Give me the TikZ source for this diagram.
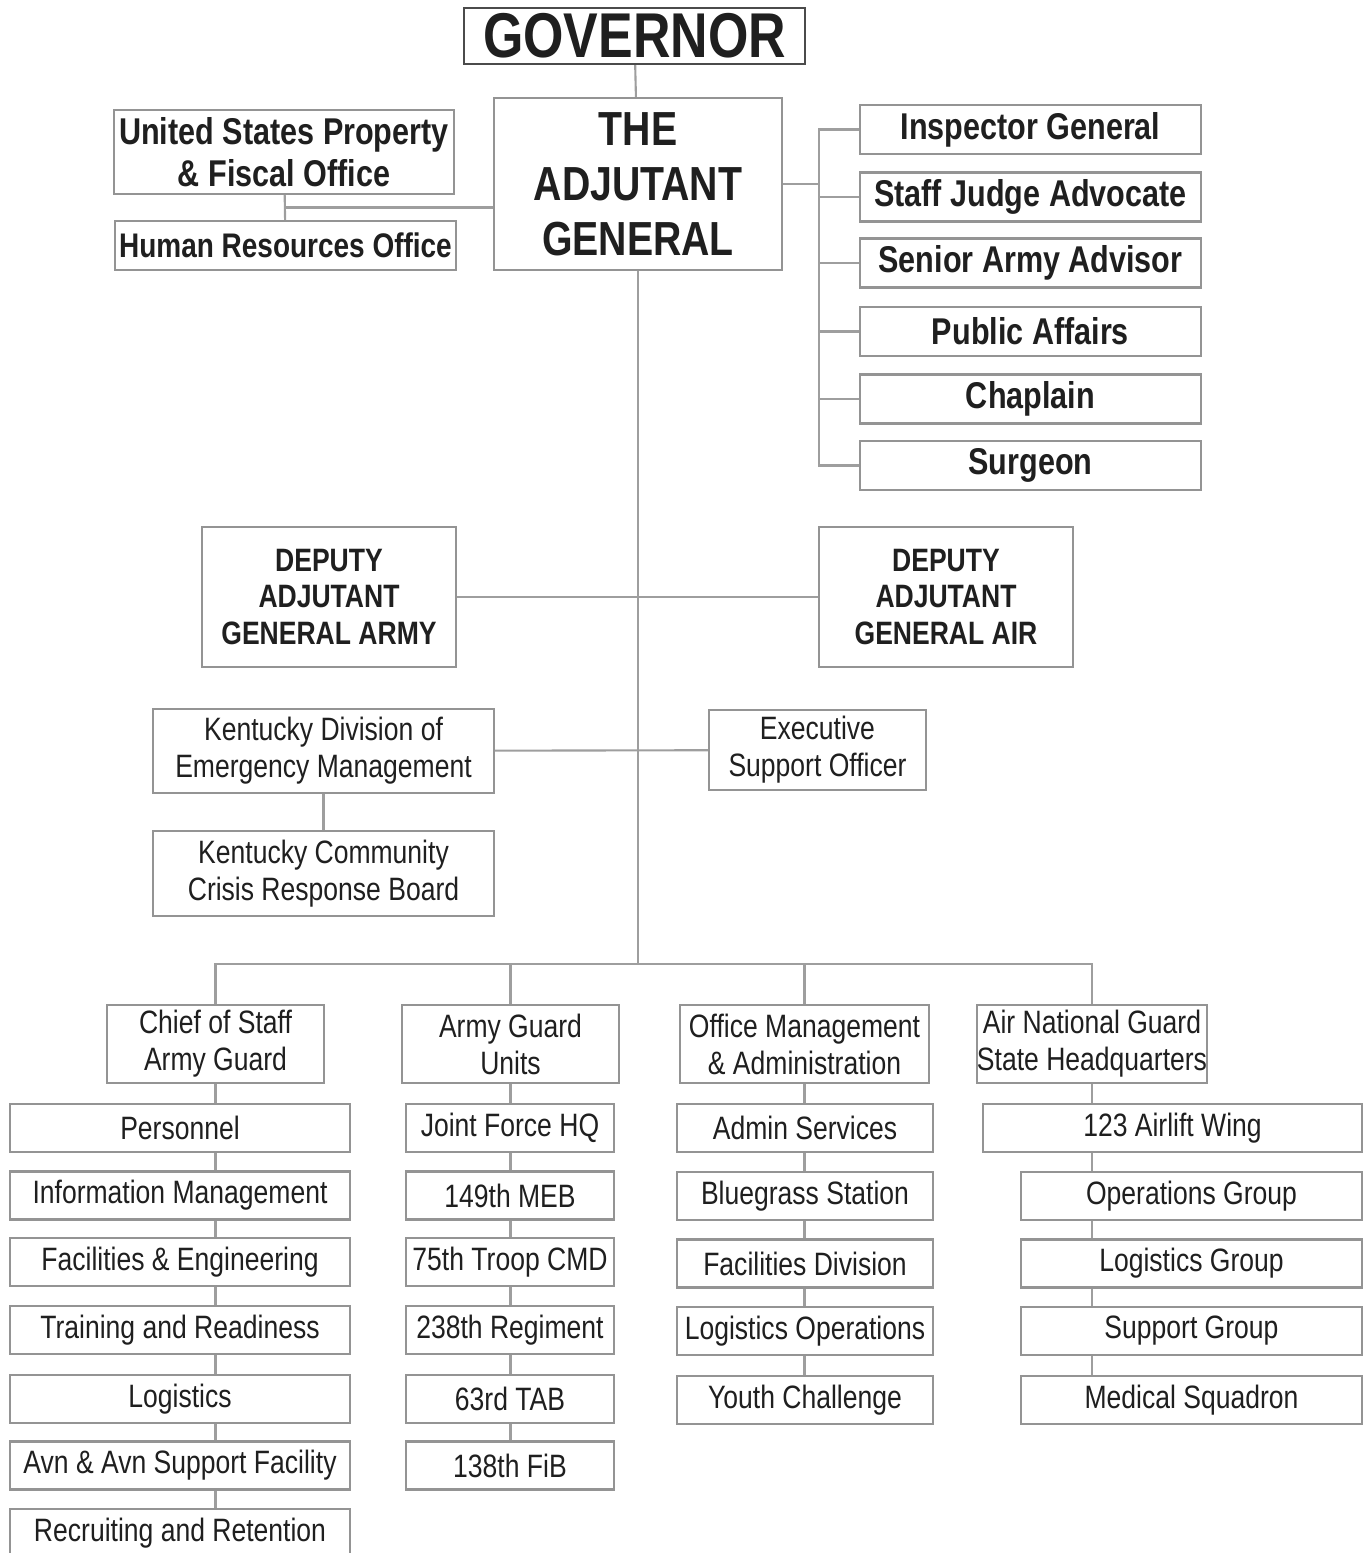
\documentclass[tikz,border=0pt]{standalone}
\usepackage{fontspec}
\setmainfont{Liberation Sans}[FakeStretch=0.82]
\usetikzlibrary{backgrounds,calc}

\begin{document}
\begin{tikzpicture}[x=0.01cm,y=-0.01cm,
  box/.style={draw=boxgray,line width=0.65pt,fill=white,inner sep=0pt,
    align=center,text=ink,font=\fontsize{9.2}{10.5}\selectfont},
  bbox/.style={box,font=\bfseries\fontsize{10.6}{12}\selectfont},
  link/.style={draw=linkgray,line width=0.6pt},
  staff/.style={bbox,minimum width=3.41cm,minimum height=0.49cm},
  dep/.style={bbox,minimum width=2.54cm,minimum height=1.40cm,
    font=\bfseries\fontsize{9.2}{10.5}\selectfont},
  head/.style={box,minimum height=0.78cm},
  colA/.style={box,minimum width=3.40cm,minimum height=0.48cm},
  colB/.style={box,minimum width=2.08cm,minimum height=0.48cm},
  colC/.style={box,minimum width=2.56cm,minimum height=0.48cm},
  colD/.style={box,minimum width=3.41cm,minimum height=0.48cm}]
  \definecolor{boxgray}{gray}{0.58}
  \definecolor{linkgray}{gray}{0.62}
  \definecolor{ink}{gray}{0.12}
  \useasboundingbox (0,0) rectangle (1365,1553);

  % top of the chart
  \node[box,draw=ink!80,minimum width=3.41cm,minimum height=0.56cm,
    font=\bfseries\fontsize{18}{20}\selectfont] (gov) at (634.5,36) {GOVERNOR};
  \node[bbox,minimum width=2.88cm,minimum height=1.72cm,
    font=\bfseries\fontsize{13.6}{15.6}\selectfont] (tag) at (638,184)
    {THE\\ADJUTANT\\GENERAL};
  \node[bbox,minimum width=3.40cm,minimum height=0.84cm] (uspfo) at (284,152)
    {United States Property\\\& Fiscal Office};
  \node[bbox,minimum width=3.41cm,minimum height=0.49cm,
    font=\bfseries\fontsize{9.7}{11}\selectfont] (hro) at (285.5,245.5)
    {Human Resources Office};

  % special staff
  \node[staff] (ig) at (1030.5,129.5) {Inspector General};
  \node[staff] (sja) at (1030.5,197) {Staff Judge Advocate};
  \node[staff] (saa) at (1030.5,263) {Senior Army Advisor};
  \node[staff] (pao) at (1030.5,331.5) {Public Affairs};
  \node[staff] (chap) at (1030.5,399) {Chaplain};
  \node[staff] (surg) at (1030.5,465.5) {Surgeon};
  \coordinate (rail) at (819,0);

  % deputies and offices
  \node[dep] (dagA) at (329,597) {DEPUTY\\ADJUTANT\\GENERAL ARMY};
  \node[dep] (dagF) at (946,597) {DEPUTY\\ADJUTANT\\GENERAL AIR};
  \node[box,minimum width=3.41cm,minimum height=0.84cm] (kyem) at (323.5,751)
    {Kentucky Division of\\Emergency Management};
  \node[box,minimum width=2.17cm,minimum height=0.80cm] (eso) at (817.5,750)
    {Executive\\Support Officer};
  \node[box,minimum width=3.41cm,minimum height=0.85cm] (kccrb) at (323.5,873.5)
    {Kentucky Community\\Crisis Response Board};

  % directorates
  \coordinate (bus) at (638,964);
  \node[head,minimum width=2.17cm] (cos) at (215.5,1044) {Chief of Staff\\Army Guard};
  \node[head,minimum width=2.17cm] (agu) at (510.5,1044) {Army Guard\\Units};
  \node[head,minimum width=2.49cm] (oma) at (804.5,1044)
    {Office Management\\\& Administration};
  \node[head,minimum width=2.30cm] (ang) at (1092,1044)
    {Air National Guard\\State Headquarters};

  \node[colA] (a1) at (180,1128) {Personnel};
  \node[colA] (a2) at (180,1195.5) {Information Management};
  \node[colA] (a3) at (180,1262) {Facilities \& Engineering};
  \node[colA] (a4) at (180,1330) {Training and Readiness};
  \node[colA] (a5) at (180,1399) {Logistics};
  \node[colA] (a6) at (180,1465.5) {Avn \& Avn Support Facility};
  \node[colA] (a7) at (180,1533) {Recruiting and Retention};

  \node[colB] (b1) at (510,1128) {Joint Force HQ};
  \node[colB] (b2) at (510,1195.5) {149th MEB};
  \node[colB] (b3) at (510,1262) {75th Troop CMD};
  \node[colB] (b4) at (510,1330) {238th Regiment};
  \node[colB] (b5) at (510,1399) {63rd TAB};
  \node[colB] (b6) at (510,1465.5) {138th FiB};

  \node[colC] (c1) at (805,1128) {Admin Services};
  \node[colC] (c2) at (805,1196) {Bluegrass Station};
  \node[colC] (c3) at (805,1263.5) {Facilities Division};
  \node[colC] (c4) at (805,1331) {Logistics Operations};
  \node[colC] (c5) at (805,1400) {Youth Challenge};

  \node[colD,minimum width=3.79cm] (d1) at (1172.5,1128) {123 Airlift Wing};
  \node[colD] (d2) at (1191.5,1196) {Operations Group};
  \node[colD] (d3) at (1191.5,1263.5) {Logistics Group};
  \node[colD] (d4) at (1191.5,1331) {Support Group};
  \node[colD] (d5) at (1191.5,1400) {Medical Squadron};

  \begin{scope}[on background layer]
    \draw[link] (gov) -- (tag);
    \draw[link] (tag.south) -- (bus);
    \draw[link] (uspfo) -- (hro);
    \draw[link] ($(uspfo.south)!.5!(hro.north)$) coordinate (uj) -- (uj -| tag.west);
    \draw[link] (tag.east) -- (tag.east -| rail);
    \draw[link] (ig.west) -- (ig.west -| rail) -- (rail |- surg.west) -- (surg.west);
    \draw[link] (sja.west) -- (sja.west -| rail);
    \draw[link] (saa.west) -- (saa.west -| rail);
    \draw[link] (pao.west) -- (pao.west -| rail);
    \draw[link] (chap.west) -- (chap.west -| rail);
    \draw[link] (dagA) -- (dagF);
    \draw[link] (kyem) -- (eso);
    \draw[link] (kyem) -- (kccrb);
    \draw[link] (cos.north) -- (cos.north |- bus) -- (ang.north |- bus) -- (ang.north);
    \draw[link] (agu.north) -- (agu.north |- bus);
    \draw[link] (oma.north) -- (oma.north |- bus);
    \draw[link] (cos.south) -- (cos.south |- a7.north);
    \draw[link] (agu.south) -- (agu.south |- b6.north);
    \draw[link] (oma.south) -- (oma.south |- c5.north);
    \draw[link] (ang.south) -- (ang.south |- d5.north);
  \end{scope}
\end{tikzpicture}
\end{document}
